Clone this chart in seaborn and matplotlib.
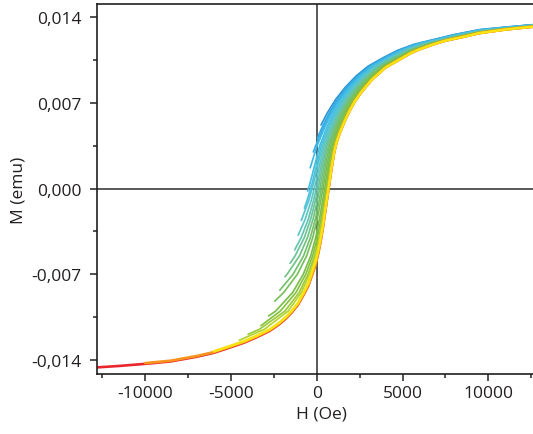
import pandas as pd
import matplotlib
matplotlib.use("Agg")
import matplotlib.pyplot as plt
from matplotlib.ticker import MultipleLocator, FuncFormatter
import seaborn as sns

# =====================================
# Data
# =====================================

# major ascending branch, H in Oe (red, orange and yellow curves)
major_h = [-12820, -11500, -10000, -8500, -7000, -6000, -5000, -4200, -3460, -2737,
           -2220, -1800, -1457, -1100, -768, -500, -321, -83, 91, 230,
           354, 461, 569, 676, 784, 892, 1000, 1100, 1200, 1350,
           1500, 1650, 1800, 2000, 2200, 2400, 2600, 2900, 3200, 3600,
           4000, 4500, 5000, 5500, 6000, 6800, 7500, 8500, 9500, 11000, 12900]

red_m = [-0.01461, -0.01449, -0.01432, -0.01412, -0.01374, -0.01342, -0.01296, -0.01257, -0.01212, -0.01162,
         -0.01112, -0.01062, -0.01012, -0.00950, -0.00868, -0.00795, -0.00722, -0.00622, -0.00520, -0.00418,
         -0.00316, -0.00214, -0.00112, -0.00010, 0.00092, 0.00193, 0.00286, 0.00350, 0.00400, 0.00460,
         0.00510, 0.00560, 0.00605, 0.00660, 0.00710, 0.00750, 0.00790, 0.00840, 0.00890, 0.00940,
         0.00990, 0.01030, 0.01070, 0.01110, 0.01140, 0.01180, 0.01210, 0.01240, 0.01272, 0.01301, 0.01328]

# orange starts at -10000 Oe, yellow at -6000 Oe (last values of major_h)
orange_m = [-0.01426, -0.01406, -0.01368, -0.01336, -0.01290, -0.01251, -0.01206, -0.01156,
            -0.01106, -0.01056, -0.01006, -0.00945, -0.00865, -0.00795, -0.00725, -0.00630, -0.00530, -0.00430,
            -0.00325, -0.00220, -0.00115, -0.00010, 0.00095, 0.00195, 0.00288, 0.00350, 0.00400, 0.00460,
            0.00510, 0.00560, 0.00605, 0.00660, 0.00710, 0.00750, 0.00790, 0.00840, 0.00890, 0.00940,
            0.00990, 0.01030, 0.01070, 0.01110, 0.01140, 0.01180, 0.01210, 0.01240, 0.01272, 0.01301, 0.01328]

yellow_m = [-0.01330, -0.01284, -0.01245, -0.01200, -0.01150,
            -0.01100, -0.01050, -0.01000, -0.00935, -0.00850, -0.00775, -0.00700, -0.00600, -0.00500, -0.00400,
            -0.00300, -0.00200, -0.00100, 0.00000, 0.00100, 0.00200, 0.00290, 0.00350, 0.00400, 0.00460,
            0.00510, 0.00560, 0.00605, 0.00660, 0.00710, 0.00750, 0.00790, 0.00840, 0.00890, 0.00940,
            0.00990, 0.01030, 0.01070, 0.01110, 0.01140, 0.01180, 0.01210, 0.01240, 0.01272, 0.01301, 0.01328]

# reversal curves: start point on the descending branch
forc_tip_h = [250, 30, -200, -380, -530, -720, -900, -1080,
              -1280, -1550, -1850, -2150, -2450, -2800, -3250, -4000, -4500]
forc_tip_m = [0.0052, 0.0041, 0.0030, 0.0017, -0.0002, -0.0016, -0.0026, -0.0038,
              -0.0050, -0.0061, -0.0072, -0.0083, -0.0092, -0.0104, -0.0112, -0.0119, -0.01238]

# M levels where each curve was read (a curve uses the last n levels)
forc_levels = [-0.0115, -0.0100, -0.0085, -0.0070, -0.0055, -0.0040, -0.0025, -0.0010, 0.0005, 0.0020,
               0.0035, 0.0050, 0.0062, 0.0073, 0.0083, 0.0092, 0.0100, 0.0107, 0.0113, 0.0118]

forc_h = [
    [620, 1107, 1673, 2290, 2987, 3870, 4708, 5679],
    [311, 739, 1210, 1767, 2378, 3071, 3951, 4787, 5757],
    [-63, 387, 812, 1283, 1839, 2450, 3142, 4022, 4858, 5827],
    [-315, 18, 463, 887, 1356, 1911, 2521, 3213, 4092, 4929, 5898],
    [-379, -103, 174, 585, 992, 1450, 1998, 2604, 3293, 4171, 5005, 5973],
    [-569, -256, -1, 263, 667, 1070, 1526, 2072, 2677, 3365, 4242, 5076, 6045],
    [-473, -170, 79, 339, 741, 1142, 1597, 2144, 2748, 3436, 4313, 5147, 6115],
    [-672, -326, -53, 177, 426, 822, 1219, 1672, 2217, 2821, 3508, 4384, 5218, 6186],
    [-906, -493, -190, 57, 271, 511, 900, 1295, 1746, 2290, 2893, 3579, 4456, 5290, 6258],
    [-1263, -724, -355, -79, 152, 357, 590, 976, 1368, 1819, 2362, 2964, 3651, 4527, 5361, 6329],
    [-1727, -1007, -540, -217, 32, 247, 441, 670, 1052, 1443, 1891, 2435, 3037, 3723, 4599, 5433, 6400],
    [-1379, -768, -369, -85, 140, 340, 526, 748, 1127, 1516, 1964, 2507, 3108, 3794, 4670, 5503, 6470],
    [-1932, -1129, -588, -232, 26, 235, 425, 605, 824, 1200, 1588, 2036, 2578, 3179, 3865, 4740, 5573, 6540],
    [-2389, -1408, -784, -351, -60, 157, 342, 518, 688, 902, 1275, 1662, 2109, 2650, 3250, 3935, 4810, 5643, 6610],
    [-2118, -1216, -640, -237, 37, 244, 422, 594, 762, 974, 1347, 1733, 2179, 2720, 3320, 4005, 4880, 5713, 6680],
    [-3344, -1849, -1029, -503, -130, 125, 321, 493, 660, 826, 1036, 1408, 1794, 2240, 2780, 3380, 4065, 4940, 5773, 6740],
    [-3054, -1661, -903, -415, -65, 177, 364, 531, 695, 859, 1068, 1439, 1825, 2270, 2810, 3410, 4095, 4970, 5803, 6770],
]

# high field part of every reversal curve
tail_h = [8000, 9500, 11000, 12900]
forc_tail_m = [
    [0.01259, 0.01300, 0.01320, 0.01344],
    [0.01256, 0.01298, 0.01319, 0.01343],
    [0.01254, 0.01296, 0.01318, 0.01342],
    [0.01252, 0.01295, 0.01317, 0.01341],
    [0.01250, 0.01293, 0.01316, 0.01340],
    [0.01248, 0.01291, 0.01314, 0.01339],
    [0.01246, 0.01289, 0.01313, 0.01338],
    [0.01243, 0.01287, 0.01311, 0.01337],
    [0.01241, 0.01286, 0.01310, 0.01336],
    [0.01239, 0.01284, 0.01309, 0.01335],
    [0.01237, 0.01282, 0.01308, 0.01333],
    [0.01235, 0.01280, 0.01307, 0.01332],
    [0.01233, 0.01279, 0.01305, 0.01332],
    [0.01231, 0.01277, 0.01304, 0.01331],
    [0.01229, 0.01275, 0.01303, 0.01330],
    [0.01227, 0.01273, 0.01302, 0.01329],
    [0.01226, 0.01273, 0.01302, 0.01328],
]

forc_colors = ["#2f96d6", "#33a6df", "#38b1e4", "#3eb9e6", "#45bee4", "#4dc2de", "#55c4d2", "#5dc5c3",
               "#64c4b0", "#6bc39a", "#71c283", "#75c16d", "#78c05a", "#7bbf4b", "#86c241", "#9bca3b",
               "#b3d234"]
major_colors = {"red": "#e8262b", "orange": "#f7941d", "yellow": "#f8e20f"}

x_ticks = [-10000, -5000, 0, 5000, 10000]
y_ticks = [-0.014, -0.007, 0.0, 0.007, 0.014]

# =====================================
# Build long tables
# =====================================

rows = []
forc_names = []
for k in range(len(forc_tip_h)):
    name = f"F{k + 1:02d}"
    forc_names.append(name)
    n = len(forc_h[k])
    hs = [forc_tip_h[k]] + forc_h[k] + tail_h
    ms = [forc_tip_m[k]] + forc_levels[-n:] + forc_tail_m[k]
    for h, m in zip(hs, ms):
        rows.append({"H": h, "M": m, "curve": name})
forc_df = pd.DataFrame(rows)

major_rows = []
for name, values in [("red", red_m), ("orange", orange_m), ("yellow", yellow_m)]:
    for h, m in zip(major_h[-len(values):], values):
        major_rows.append({"H": h, "M": m, "curve": name})
major_df = pd.DataFrame(major_rows)

# =====================================
# Plot
# =====================================

sns.set_style("ticks")
plt.rcParams["font.family"] = ["Open Sans", "DejaVu Sans"]

fig = plt.figure(figsize=(5.33, 4.35), dpi=100)
ax = fig.add_axes([0.1814, 0.1379, 0.8186, 0.8506])

ax.axhline(0, color="#3d3d3d", lw=1.2, zorder=1)
ax.axvline(0, color="#3d3d3d", lw=1.2, zorder=1)

sns.lineplot(
    data=forc_df, x="H", y="M", hue="curve",
    hue_order=forc_names,
    palette=dict(zip(forc_names, forc_colors)),
    sort=False, estimator=None, linewidth=1.25,
    legend=False, ax=ax
)

sns.lineplot(
    data=major_df, x="H", y="M", hue="curve",
    hue_order=["red", "orange", "yellow"],
    palette=major_colors,
    sort=False, estimator=None, linewidth=1.9,
    legend=False, ax=ax
)

ax.set_xlim(-12820, 12600)
ax.set_ylim(-0.01515, 0.01509)

ax.set_xticks(x_ticks)
ax.set_yticks(y_ticks)
ax.xaxis.set_minor_locator(MultipleLocator(2500))
ax.yaxis.set_minor_locator(MultipleLocator(0.0035))
ax.xaxis.set_major_formatter(FuncFormatter(lambda v, p: f"{int(round(v))}"))
ax.yaxis.set_major_formatter(FuncFormatter(lambda v, p: f"{v:.3f}".replace(".", ",")))

ax.tick_params(which="major", direction="out", length=5, width=1.1, color="#231f20",
               labelsize=12.5, labelcolor="#231f20")
ax.tick_params(axis="y", which="major", pad=6)
ax.tick_params(axis="x", which="major", pad=3)
ax.tick_params(which="minor", direction="out", length=3, width=1.1, color="#231f20")

for side in ["left", "bottom", "top"]:
    ax.spines[side].set_color("#231f20")
    ax.spines[side].set_linewidth(1.2)
ax.spines["right"].set_visible(False)

ax.set_xlabel("H (Oe)", fontsize=12.5, color="#231f20")
ax.set_ylabel("M (emu)", fontsize=12.5, color="#231f20")
ax.xaxis.set_label_coords(0.516, -0.085)
ax.yaxis.set_label_coords(-0.16, 0.5)

fig.savefig("out.png", dpi=100)
plt.close()
